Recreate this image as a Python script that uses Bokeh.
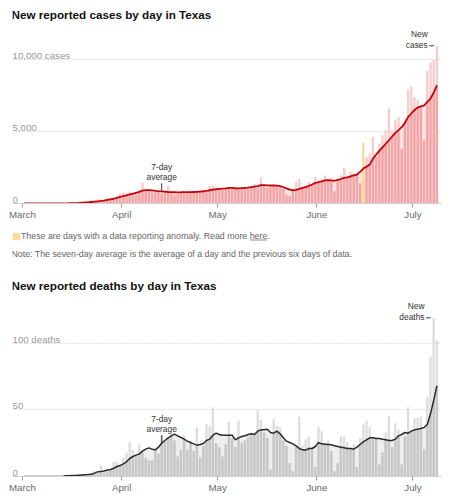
import numpy as np
import pandas as pd
from bokeh.plotting import figure
from bokeh.models import ColumnDataSource, FixedTicker, Label, Range1d
from bokeh.layouts import column
from bokeh.embed import file_html
from bokeh.resources import INLINE
from bokeh.core.properties import value

# ---------------- data ----------------
START_DATE = "2020-03-01"

cases = [
    0, 0, 0, 1, 2, 3, 3, 2, 5, 8,
    10, 15, 20, 25, 30, 40, 60, 80, 100, 120,
    150, 200, 230, 280, 250, 300, 420, 350, 400, 520,
    700, 760, 720, 820, 700, 620, 980, 1460, 900, 1000,
    750, 820, 900, 700, 820, 1200, 700, 580, 650, 760,
    820, 900, 870, 800, 850, 900, 880, 820, 1230, 1250,
    1100, 1050, 950, 1000, 1120, 1050, 1000, 1100, 1080, 1150,
    1020, 1200, 1350, 1100, 1800, 1300, 1080, 1150, 1200, 1150,
    1100, 1000, 600, 500, 850, 1500, 1700, 1100, 1250, 1500,
    1300, 1850, 1450, 1600, 1950, 1600, 1750, 850, 1700, 1960,
    2470, 1950, 2190, 2060, 2030, 1400, 4230, 3230, 3470, 4620,
    3230, 4160, 4740, 5090, 6590, 5090, 5780, 6010, 3800, 5900,
    7930, 8140, 7400, 7170, 6760, 4400, 9200, 9790, 9950, 10950,
]

cases_avg = [
    0, 0, 0, 0, 1, 1, 2, 2, 3, 4,
    6, 8, 10, 14, 18, 24, 32, 42, 55, 68,
    85, 105, 125, 150, 175, 205, 250, 290, 330, 390,
    460, 520, 570, 630, 680, 740, 800, 900, 925, 930,
    910, 880, 855, 840, 820, 800, 785, 780, 775, 780,
    790, 790, 785, 800, 810, 830, 850, 880, 920, 960,
    990, 1010, 1030, 1050, 1080, 1090, 1060, 1050, 1070, 1090,
    1100, 1130, 1170, 1200, 1270, 1280, 1260, 1250, 1250, 1240,
    1200, 1130, 1050, 960, 920, 950, 1020, 1080, 1140, 1220,
    1320, 1430, 1480, 1540, 1600, 1630, 1600, 1580, 1640, 1700,
    1780, 1820, 1880, 1950, 2010, 2200, 2430, 2560, 2700, 3100,
    3400, 3650, 3900, 4150, 4390, 4650, 4900, 5100, 5300, 5600,
    6000, 6250, 6500, 6660, 6750, 6820, 7050, 7290, 7700, 8210,
]

deaths = [
    0, 0, 0, 0, 0, 0, 0, 0, 0, 0,
    0, 0, 0, 0, 0, 1, 0, 1, 1, 2,
    1, 3, 4, 2, 8, 3, 4, 5, 11, 11,
    9, 14, 18, 26, 20, 15, 24, 18, 14, 12,
    12, 20, 17, 31, 26, 29, 32, 27, 15, 20,
    31, 20, 27, 19, 37, 14, 23, 39, 38, 52,
    25, 22, 15, 24, 41, 29, 22, 42, 25, 27,
    30, 32, 33, 50, 43, 33, 29, 5, 43, 38,
    37, 27, 23, 10, 4, 22, 45, 23, 28, 30,
    22, 7, 37, 34, 25, 27, 19, 4, 10, 30,
    30, 26, 22, 24, 7, 29, 39, 42, 37, 29,
    29, 9, 18, 33, 45, 22, 40, 35, 9, 30,
    52, 35, 44, 44, 45, 20, 60, 90, 119, 102,
]

deaths_avg = [
    0, 0, 0, 0, 0, 0, 0, 0, 0, 0,
    0, 0, 0, 0.5, 0.5, 0.7, 0.8, 1, 1.2, 1.4,
    1.5, 1.75, 2.5, 3.5, 3.8, 4.2, 4.8, 5.2, 6.2, 7.5,
    8.2, 9.5, 11, 13.5, 15, 16, 17, 19, 20.5, 21.5,
    20.5, 20, 22, 25, 27, 29, 30.5, 31.75, 30.5, 29.25,
    28, 26.5, 25.5, 24.5, 23.5, 24, 24.75, 27, 28, 31,
    32.5, 31.5, 31, 31, 31, 31, 27.5, 29, 30, 30.5,
    31.5, 32, 31.5, 34, 35, 35, 35.5, 33, 32.5, 34,
    32, 29, 26.5, 25.5, 24.5, 23, 21, 20, 19.75, 21,
    21, 22.5, 25.5, 24.5, 24.25, 24, 23.75, 23, 22.5, 22,
    21.5, 21, 21, 20.5, 22, 24, 26, 27.5, 29, 29,
    28.5, 28.5, 28, 27.5, 27, 27, 28, 30.5, 31.5, 33,
    32.5, 34, 35, 35.5, 36, 36.7, 39, 47, 57, 68,
]

anomaly_dates = ["2020-06-15"]

case_label_values = [0, 5000, 10000]
case_label_texts = ["0", "5,000", "10,000 cases"]
case_grid_values = [5000, 10000]

death_label_values = [0, 50, 100]
death_label_texts = ["0", "50", "100 deaths"]
death_grid_values = [50, 100]

# ---------------- style ----------------
FONT = "Liberation Sans"
ANOM = "#fdd99b"
RED = dict(area="#fce3e3", bar="#f8cbcc", low="#f2a5a7", line="#c4040d")
GREY = dict(area="#eeeeee", bar="#dddddd", low="#c6c6c6", line="#2b2b2b")
PX_PER_DAY = 3.2
FRAME_W = 429
PAGE_W = 449
LEFT = 12
X_START = -10 / PX_PER_DAY
X_END = X_START + FRAME_W / PX_PER_DAY


def build(title, daily, avg, label_vals, label_txts, grid_vals, px_per_unit,
          top_border, frame_h, bottom_border, title_y, pal, max_label, line_w,
          anomalies=()):
    n = len(daily)
    dates = pd.date_range(START_DATE, periods=n)
    x = np.arange(n) + 0.5
    daily = np.asarray(daily, float)
    avg = np.asarray(avg, float)
    low = np.minimum(daily, avg)
    anom = np.isin(dates, pd.to_datetime(list(anomalies)))
    src = ColumnDataSource(dict(
        x=x, top=daily, low=low, avg=avg,
        bar_col=np.where(anom, ANOM, pal["bar"]),
        low_col=np.where(anom, ANOM, pal["low"]),
    ))
    month_idx = [i for i, d in enumerate(dates) if d.day == 1]
    month_names = {i: dates[i].strftime("%B") for i in month_idx}

    p = figure(width=PAGE_W, height=top_border + frame_h + bottom_border,
               x_range=Range1d(X_START, X_END),
               y_range=Range1d(0, frame_h / px_per_unit),
               output_backend="svg", toolbar_location=None,
               y_axis_location=None,
               min_border_left=LEFT, min_border_right=PAGE_W - LEFT - FRAME_W,
               min_border_top=top_border, min_border_bottom=bottom_border)
    p.outline_line_color = None
    p.background_fill_color = "white"
    p.xgrid.visible = False
    p.ygrid.ticker = FixedTicker(ticks=grid_vals)
    p.ygrid.grid_line_color = "#c4c4c4"
    p.ygrid.grid_line_dash = "1 2"

    ax = p.xaxis[0]
    ax.ticker = FixedTicker(ticks=month_idx)
    ax.major_label_overrides = month_names
    ax.axis_line_color = "#d0d0d0"
    ax.major_tick_line_color = "#9a9a9a"
    ax.major_tick_out = 4
    ax.major_tick_in = 0
    ax.minor_tick_line_color = None
    ax.major_label_standoff = 1
    ax.major_label_text_align = "left"
    ax.major_label_text_font = FONT
    ax.major_label_text_font_size = "9.7px"
    ax.major_label_text_color = "#6a6a6a"

    p.varea(x="x", y1=0, y2="avg", source=src, fill_color=pal["area"])
    p.vbar(x="x", width=0.74, top="top", bottom=0, source=src,
           fill_color="bar_col", line_color=None)
    p.vbar(x="x", width=0.74, top="low", bottom=0, source=src,
           fill_color="low_col", line_color=None)
    p.line("x", "avg", source=src, line_color=pal["line"], line_width=line_w)

    # value labels above gridlines
    p.text(x=[X_START] * len(label_vals), y=label_vals, text=label_txts,
           text_font=value(FONT), text_font_size="9.7px", text_color="#9a9a9a",
           text_align="left", text_baseline="alphabetic", y_offset=-4)

    # 7-day average pointer
    ai = 43
    p.ray(x=[x[ai]], y=[avg[ai]], length=8, angle=np.pi / 2,
          length_units="screen", line_color="#333333", line_width=1)
    p.text(x=[x[ai]], y=[avg[ai]], text=["7-day\naverage"],
           text_font=value(FONT), text_font_size="8.4px", text_color="#333333",
           text_align="center", text_baseline="bottom", y_offset=-9,
           text_line_height=1.05)

    # newest-values pointer at the tallest bar
    mi = int(np.argmax(daily))
    p.segment(x0=[x[mi] - 0.95], y0=[daily[mi]], x1=[x[mi] - 2.4], y1=[daily[mi]],
              line_color="#333333", line_width=1)
    p.text(x=[x[mi] - 2.4], y=[daily[mi]], text=[max_label],
           text_font=value(FONT), text_font_size="8.4px", text_color="#333333",
           text_align="right", text_baseline="bottom", x_offset=-1.5, y_offset=4,
           text_line_height=1.05)

    # chart title, placed inside the frame near its top
    p.add_layout(Label(x=-1, y=frame_h - title_y, x_units="screen", y_units="screen",
                       text=title, text_font=FONT, text_font_style="bold",
                       text_font_size="11.7px", text_color="#121212",
                       text_baseline="middle"))
    return p


# cases chart: frame spans page y 8..203
p1 = build("New reported cases by day in Texas", cases, cases_avg,
           case_label_values, case_label_texts, case_grid_values,
           0.0144, 8, 195, 19, 6, RED, "New\ncases", 1.8, anomaly_dates)

# notes strip: page y 222..269 (its frame is aligned with the charts' frames)
NOTE_H = 47
notes = figure(width=PAGE_W, height=NOTE_H, x_range=Range1d(0, FRAME_W),
               y_range=Range1d(0, NOTE_H), output_backend="svg",
               toolbar_location=None, x_axis_location=None, y_axis_location=None,
               min_border_left=LEFT, min_border_right=PAGE_W - LEFT - FRAME_W,
               min_border_top=0, min_border_bottom=0)
notes.outline_line_color = None
notes.grid.visible = False
notes.add_layout(Label(x=-0.5, y=NOTE_H - 13, x_units="screen", y_units="screen",
                       text="\u25a0", text_font="DejaVu Sans", text_font_size="9.5px",
                       text_color=ANOM, text_baseline="middle"))
notes.add_layout(Label(x=8.5, y=NOTE_H - 13, x_units="screen", y_units="screen",
                       text="These are days with a data reporting anomaly. Read more here.",
                       text_font=FONT, text_font_size="8.8px", text_color="#666666",
                       text_baseline="middle"))
notes.segment(x0=[237.5], y0=[NOTE_H - 17.5], x1=[254.5], y1=[NOTE_H - 17.5],
              line_color="#777777", line_width=0.8)
notes.add_layout(Label(x=-1, y=NOTE_H - 31, x_units="screen", y_units="screen",
                       text="Note: The seven-day average is the average of a day and the previous six days of data.",
                       text_font=FONT, text_font_size="8.8px", text_color="#666666",
                       text_baseline="middle"))

# deaths chart: frame spans page y 269..476
p2 = build("New reported deaths by day in Texas", deaths, deaths_avg,
           death_label_values, death_label_texts, death_grid_values,
           1.3333, 0, 207, 20, 16, GREY, "New\ndeaths", 1.5)

layout = column(p1, notes, p2)
open("out.html", "w").write(file_html(layout, INLINE, title="Texas"))
